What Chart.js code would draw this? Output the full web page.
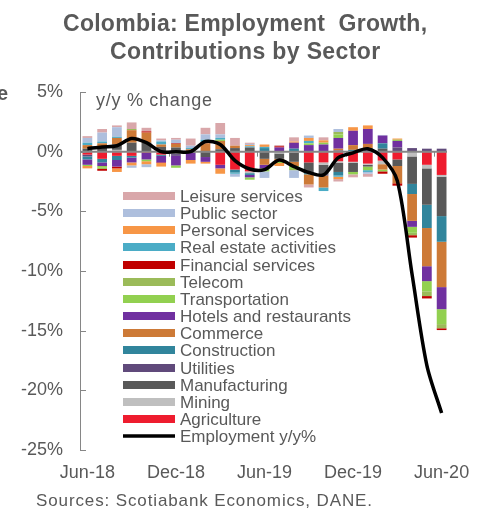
<!DOCTYPE html>
<html>
<head>
<meta charset="utf-8">
<script src="https://cdn.jsdelivr.net/npm/chart.js@4.4.1/dist/chart.umd.min.js"></script>
<style>
  html, body { margin:0; padding:0; background:#fff; }
  #wrap { width:482px; height:508px; }
</style>
</head>
<body>
<div id="wrap"><canvas id="chart" width="482" height="508"></canvas></div>
<script>
// Contributions to y/y employment growth, pp
const months = ['Jun-18','Jul-18','Aug-18','Sep-18','Oct-18','Nov-18','Dec-18','Jan-19','Feb-19','Mar-19','Apr-19','May-19',
                'Jun-19','Jul-19','Aug-19','Sep-19','Oct-19','Nov-19','Dec-19','Jan-20','Feb-20','Mar-20','Apr-20','May-20','Jun-20'];

const agriculture    = [-0.25,-0.6,-0.35,-0.35,-0.1,-0.25,-0.1,0,0,-1.1,-1.5,-1.65,0,0,0,-0.9,-0.9,-0.8,-0.85,-1.0,-0.75,-0.65,0,-1.1,-1.95];
const mining         = [0,0,0.15,0.05,0,0,-0.1,0,0,0,0,-0.15,0,-0.15,-0.1,0,-0.2,-0.15,-0.1,-0.1,-0.3,0,-0.4,-0.3,-0.15];
const manufacturing  = [0.25,0.45,0.45,0.7,0.75,0.4,0.35,-0.1,-0.45,0.2,0.3,0.35,-0.6,-0.45,-0.75,-0.9,-0.8,-0.75,-0.75,-0.15,0.25,-0.55,-2.3,-3.05,-3.3];
const utilities      = [-0.15,0,0,0,0,0,-0.15,0,0,0,0,0,0,0,0,0,-0.1,0.1,0,0.2,0,0.35,0.3,0.25,0.25];
const construction   = [-0.25,-0.3,-0.35,-0.15,0,-0.1,0,0,0,0,-0.25,-0.15,0.3,0,0.25,-0.1,0,-0.3,0.15,0.1,0.45,0,-0.85,-1.95,-2.15];
const commerce       = [0.3,0.25,0.55,1.05,0.85,0.2,0.3,0.2,0.7,0.7,0.2,0,-0.5,-0.2,-0.35,-0.85,-1.0,0.15,0.4,0.35,-0.45,-1.45,-2.25,-3.2,-3.8];
const hotels         = [-0.45,-0.3,-0.55,-0.4,-0.55,-0.55,-0.8,-0.6,-0.4,-0.3,0,-0.2,-0.3,0.35,0.5,0.55,0.6,0.9,1.2,1.25,0.65,0.55,-0.5,-1.25,-1.85];
const transportation = [-0.1,-0.15,0,0,-0.15,0,-0.2,0,0,0.1,0,-0.2,-0.25,-0.15,-0.25,0.15,0.15,0.3,-0.2,-0.3,-0.15,0.1,-0.5,-0.85,-1.25];
const telecom        = [0,-0.1,0,0.1,0,0,0,0,0,0,0,0,0,0,-0.1,0,0,0.2,0,0,0,0,-0.2,-0.4,-0.35];
const financial      = [0,-0.15,-0.15,0,0.1,-0.05,0.05,0,0.1,0,0,0,0,0.1,0,0,0,0,0,0,-0.2,-0.2,-0.2,-0.2,-0.15];
const realEstate     = [0.2,0.15,0.1,0,0,0.25,0,0.1,0.2,0.15,-0.1,0.1,0.1,0,0,0.2,-0.3,-0.1,0,-0.15,0,0,0,0,0];
const personal       = [-0.2,0,-0.3,-0.25,-0.25,-0.3,0,-0.3,-0.15,-0.45,0,0.1,0.2,-0.25,0.1,0.25,0.2,-0.2,0.3,0.3,0,0.1,0,0,0];
const publicSector   = [0.4,0.75,0.8,-0.2,-0.25,0.1,0.3,0.2,0.45,0.3,-0.25,0.1,-0.55,0,-0.65,0.2,0,0.25,0,-0.15,0.05,0,0,0,0];
const leisure        = [0.15,0.3,0.15,0.55,0.3,0.15,0.15,0.6,0.55,0.95,0.65,0.1,0,0.1,0.35,-0.25,0.25,-0.2,-0.25,-0.25,0,0,0,0,0];

const employment = [0.25,0.4,0.5,1.1,0.75,0.0,0.0,0.0,0.85,0.6,-0.75,-1.45,-1.5,-0.7,-1.25,-1.75,-1.95,-0.5,-0.1,0.25,-0.5,-2.45,-10.3,-17.9,-21.9];

const yMin = -25, yMax = 5, yStep = 5;
const xLabelEvery = 6;

// stacking order: first entry sits next to zero
const sectors = [
    ['Agriculture', agriculture, '#EE1C2E'],
    ['Mining', mining, '#BFBFBF'],
    ['Manufacturing', manufacturing, '#595959'],
    ['Utilities', utilities, '#604A7B'],
    ['Construction', construction, '#31859C'],
    ['Commerce', commerce, '#CD7A37'],
    ['Hotels and restaurants', hotels, '#7030A0'],
    ['Transportation', transportation, '#92D050'],
    ['Telecom', telecom, '#9BBB59'],
    ['Financial services', financial, '#C00000'],
    ['Real estate activities', realEstate, '#4BACC6'],
    ['Personal services', personal, '#F79646'],
    ['Public sector', publicSector, '#AEBFDD'],
    ['Leisure services', leisure, '#D9A7AA']
];

const FONT = "'Liberation Sans', Arial, sans-serif";
const GREY = '#595959';
const AXIS = '#868686';

const datasets = sectors.map(([name, data, color]) => ({
    type: 'bar', label: name, data: data, backgroundColor: color,
    stack: 'sectors', order: 1, barPercentage: 0.66, categoryPercentage: 1
}));
datasets.push({
    type: 'line', label: 'Employment y/y%', data: employment, stack: 'emp', order: 0,
    borderColor: '#000', borderWidth: 3.5, pointRadius: 0, tension: 0.3, fill: false
});
const lineIndex = datasets.length - 1;

// spread text so it covers about the same width as the original
function spacedText(ctx, text, x, y, width) {
    ctx.letterSpacing = '0px';
    const w = ctx.measureText(text).width;
    const ls = Math.max(0, (width - w) / (text.length - 1));
    ctx.letterSpacing = ls.toFixed(2) + 'px';
    ctx.fillText(text, x, y);
    ctx.letterSpacing = '0px';
}

// zero line, inner y ticks and category ticks, drawn just under the employment line
const axisMarks = {
    id: 'axisMarks',
    beforeDatasetDraw(chart, args) {
        if (args.index !== lineIndex) return;
        const { ctx, chartArea, scales: { x, y } } = chart;
        ctx.save();
        ctx.strokeStyle = AXIS;
        ctx.lineWidth = 2;
        const y0 = y.getPixelForValue(0);
        ctx.beginPath();
        ctx.moveTo(chartArea.left, y0);
        ctx.lineTo(chartArea.right - 2, y0);
        ctx.stroke();
        ctx.lineWidth = 1;
        for (let i = xLabelEvery; i < months.length; i += xLabelEvery) {
            const bx = Math.round((x.getPixelForValue(i - 1) + x.getPixelForValue(i)) / 2) + 0.5;
            ctx.beginPath();
            ctx.moveTo(bx, y0);
            ctx.lineTo(bx, y0 + 5);
            ctx.stroke();
        }
        for (let v = yMin; v <= yMax; v += yStep) {
            const ty = Math.round(y.getPixelForValue(v)) + 0.5;
            ctx.beginPath();
            ctx.moveTo(chartArea.left, ty);
            ctx.lineTo(chartArea.left + 6, ty);
            ctx.stroke();
        }
        ctx.restore();
    }
};

// title, unit label, legend, source
const annotations = {
    id: 'annotations',
    afterDraw(chart) {
        const ctx = chart.ctx;
        ctx.save();
        ctx.fillStyle = GREY;
        ctx.textBaseline = 'alphabetic';
        ctx.textAlign = 'left';

        ctx.font = 'bold 23px ' + FONT;
        spacedText(ctx, 'Colombia: Employment  Growth,', 63, 31, 364);
        spacedText(ctx, 'Contributions by Sector', 110, 59, 270);

        ctx.font = 'bold 20px ' + FONT;
        ctx.fillText('e', -3, 100);

        ctx.font = '18px ' + FONT;
        spacedText(ctx, 'y/y % change', 96, 106, 116);

        // legend: reverse of stacking order, then the line
        ctx.font = '17px ' + FONT;
        const items = sectors.slice().reverse();
        const rowH = 17.15, top = 196;
        items.forEach(([name, , color], i) => {
            const cy = top + i * rowH;
            ctx.fillStyle = color;
            ctx.fillRect(123, Math.round(cy - 4), 52, 8);
            ctx.fillStyle = GREY;
            ctx.fillText(name, 180, cy + 6);
        });
        const ly = top + items.length * rowH;
        ctx.strokeStyle = '#000';
        ctx.lineWidth = 3.5;
        ctx.beginPath();
        ctx.moveTo(123, ly);
        ctx.lineTo(175, ly);
        ctx.stroke();
        ctx.fillText('Employment y/y%', 180, ly + 6);

        ctx.font = '17px ' + FONT;
        spacedText(ctx, 'Sources: Scotiabank Economics, DANE.', 36, 506, 336);
        ctx.restore();
    }
};

new Chart(document.getElementById('chart'), {
    data: { labels: months, datasets: datasets },
    options: {
        responsive: false,
        animation: false,
        devicePixelRatio: 1,
        layout: { padding: { left: 0, right: 33, top: 92, bottom: 0 } },
        plugins: { legend: { display: false }, title: { display: false }, tooltip: { enabled: false } },
        scales: {
            x: {
                stacked: true,
                offset: true,
                grid: { display: false, drawTicks: false },
                border: { display: false },
                ticks: {
                    autoSkip: false, maxRotation: 0, minRotation: 0, padding: 12,
                    color: GREY, font: { family: FONT, size: 18 },
                    callback: (v, i) => i % xLabelEvery === 0 ? months[i] : ''
                },
                afterFit: s => { s.height = 58; }
            },
            y: {
                stacked: true,
                min: yMin, max: yMax,
                grid: { drawTicks: false, color: 'rgba(0,0,0,0)' },
                border: { display: true, color: AXIS, width: 1 },
                ticks: {
                    stepSize: yStep, padding: 17,
                    color: GREY, font: { family: FONT, size: 18 },
                    callback: v => v + '%'
                },
                afterFit: s => { s.width = 80; }
            }
        }
    },
    plugins: [axisMarks, annotations]
});
</script>
</body>
</html>
